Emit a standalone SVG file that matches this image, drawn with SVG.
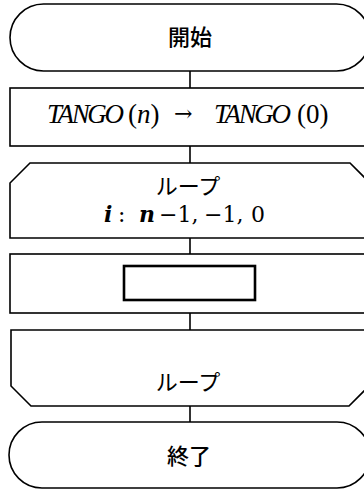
<svg xmlns="http://www.w3.org/2000/svg" width="364" height="490" viewBox="0 0 364 490">
<style>
.shape{fill:#fff;stroke:#000;stroke-width:1.6}
.conn{stroke:#000;stroke-width:1.6;fill:none}
.jp{font-family:"Noto Sans CJK JP","Noto Sans",sans-serif;font-size:22px;fill:#000;text-anchor:middle}
.m{font-family:"Liberation Serif","DejaVu Serif",serif;font-size:27px;fill:#000}
.tg{font-style:italic;letter-spacing:-2.4px}
.m2{font-family:"DejaVu Serif","Liberation Serif",serif;font-size:22px;fill:#000}
.it{font-style:italic}
.b{font-weight:bold}
</style>
<rect width="364" height="490" fill="#fff"/>
<g id="connectors">
<line class="conn" x1="190" y1="71" x2="190" y2="88"/>
<line class="conn" x1="190" y1="146" x2="190" y2="163"/>
<line class="conn" x1="190" y1="238" x2="190" y2="254"/>
<line class="conn" x1="190" y1="313" x2="190" y2="330"/>
<line class="conn" x1="190" y1="406" x2="190" y2="422"/>
</g>
<g id="start">
<rect class="shape" x="10" y="4" width="360" height="67" rx="33.5" ry="33.5"/>
<text class="jp" x="190" y="45" font-weight="500">開始</text>
</g>
<g id="assign">
<rect class="shape" x="10" y="88" width="360" height="58"/>
<text class="m tg" x="47" y="123">TANGO</text>
<text class="m" x="128" y="123">(<tspan class="it">n</tspan>)</text>
<text class="m2" x="174" y="121" font-size="28">→</text>
<text class="m tg" x="214" y="123">TANGO</text>
<text class="m" x="297" y="123">(0)</text>
</g>
<g id="loopstart">
<path class="shape" d="M30,163 H350 L370,183 V238 H10 V183 Z"/>
<text class="jp" x="188" y="194">ループ</text>
<text class="m2 it b" x="104" y="222">i</text>
<text class="m2" x="118" y="222">:</text>
<text class="m2 it b" x="139" y="222">n</text>
<text class="m2" x="159" y="222">−1,</text>
<text class="m2" x="204" y="222">−1,</text>
<text class="m2" x="251" y="222">0</text>
</g>
<g id="body">
<rect class="shape" x="10" y="254" width="360" height="59"/>
<rect x="124" y="266" width="131" height="34" fill="#fff" stroke="#000" stroke-width="2.6"/>
</g>
<g id="loopend">
<path class="shape" d="M11,330 H369 V386 L349,406 H31 L11,386 Z"/>
<text class="jp" x="188" y="390">ループ</text>
</g>
<g id="end">
<rect class="shape" x="9" y="422" width="361" height="66" rx="33" ry="33"/>
<text class="jp" x="189" y="464" font-weight="500">終了</text>
</g>
</svg>
